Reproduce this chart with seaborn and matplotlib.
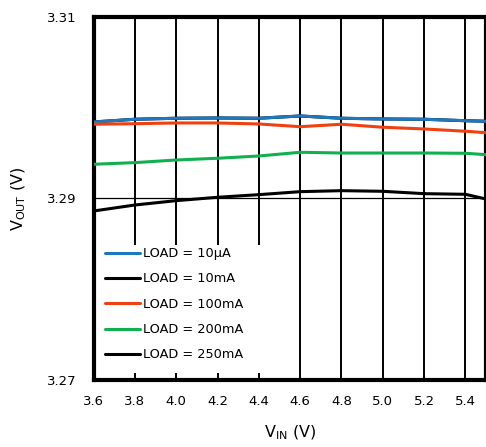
import matplotlib
matplotlib.use("Agg")
import matplotlib.pyplot as plt
from matplotlib.patches import Rectangle
import seaborn as sns
import pandas as pd

sns.set_theme(style="white")
plt.rcParams['font.family'] = ['DejaVu Sans']

vin = [3.6, 3.8, 4.0, 4.2, 4.4, 4.6, 4.8, 5.0, 5.2, 5.4, 5.5]
load_10uA = [3.29843, 3.29873, 3.29884, 3.29887, 3.29884, 3.29909, 3.29884, 3.29876, 3.29873, 3.29857, 3.29851]
load_10mA = [3.29843, 3.29873, 3.29884, 3.29887, 3.29884, 3.29909, 3.29884, 3.29876, 3.29873, 3.29857, 3.29851]
load_100mA = [3.29818, 3.29824, 3.29832, 3.29832, 3.29821, 3.29791, 3.29818, 3.29785, 3.29766, 3.29741, 3.29725]
load_200mA = [3.29377, 3.29395, 3.29424, 3.29443, 3.29468, 3.29509, 3.29501, 3.29501, 3.29501, 3.29498, 3.29483]
load_250mA = [3.28862, 3.28928, 3.28976, 3.29013, 3.29042, 3.29075, 3.29086, 3.29079, 3.29053, 3.29046, 3.28994]

labels = ["LOAD = 10\u00b5A", "LOAD = 10mA", "LOAD = 100mA", "LOAD = 200mA", "LOAD = 250mA"]
series = [load_10uA, load_10mA, load_100mA, load_200mA, load_250mA]
colors = ["#1f77c0", "#000000", "#f04010", "#10b050", "#000000"]
x_ticks = [3.6, 3.8, 4.0, 4.2, 4.4, 4.6, 4.8, 5.0, 5.2, 5.4]
y_ticks = [3.27, 3.29, 3.31]

rows = []
for lab, vals in zip(labels, series):
    for x, y in zip(vin, vals):
        rows.append({"VIN": x, "VOUT": y, "Load": lab})
df = pd.DataFrame(rows)

fig = plt.figure(figsize=(4.86, 4.47), dpi=100)
ax = fig.add_axes([0.1926, 0.150, 0.8074, 0.812])

# draw order: 10mA under 10uA
order = [1, 0, 2, 3, 4]
handles = {}
for i in order:
    sub = df[df["Load"] == labels[i]]
    sns.lineplot(data=sub, x="VIN", y="VOUT", ax=ax, color=colors[i],
                 linewidth=2.2, label=labels[i], zorder=4, legend=False)
    handles[i] = ax.lines[-1]

ax.set_xlim(3.6, 5.5)
ax.set_ylim(3.27, 3.31)
ax.set_xticks(x_ticks)
ax.set_xticklabels([f"{t:.1f}" for t in x_ticks])
ax.set_yticks(y_ticks)
ax.set_yticklabels([f"{t:.2f}" for t in y_ticks])
ax.tick_params(axis="both", length=0, labelsize=9.5, colors="black")
ax.tick_params(axis="x", pad=11)
ax.tick_params(axis="y", pad=12)

for xv in x_ticks[1:]:
    ax.axvline(xv, color="black", linewidth=1.4, zorder=1)
ax.axhline(3.29, color="black", linewidth=0.9, zorder=1)

for s in ax.spines.values():
    s.set_color("black")
    s.set_linewidth(3)
    s.set_visible(True)

ax.add_patch(Rectangle((0.004, 0.019), 0.484, 0.353, transform=ax.transAxes,
                       facecolor="white", edgecolor="none", zorder=2))

leg = ax.legend([handles[i] for i in range(5)], labels, loc="lower left",
                bbox_to_anchor=(0.01, 0.03), frameon=False, fontsize=9.3,
                handlelength=2.7, handletextpad=0.25, labelspacing=0.95,
                borderaxespad=0.2)
leg.set_zorder(5)
for t in leg.get_texts():
    t.set_color("black")

ax.set_xlabel("V$_{\\mathrm{IN}}$ (V)", fontsize=11.5, color="black", labelpad=11)
ax.set_ylabel("V$_{\\mathrm{OUT}}$ (V)", fontsize=11.5, color="black", labelpad=14)

fig.savefig("out.png", dpi=100)
